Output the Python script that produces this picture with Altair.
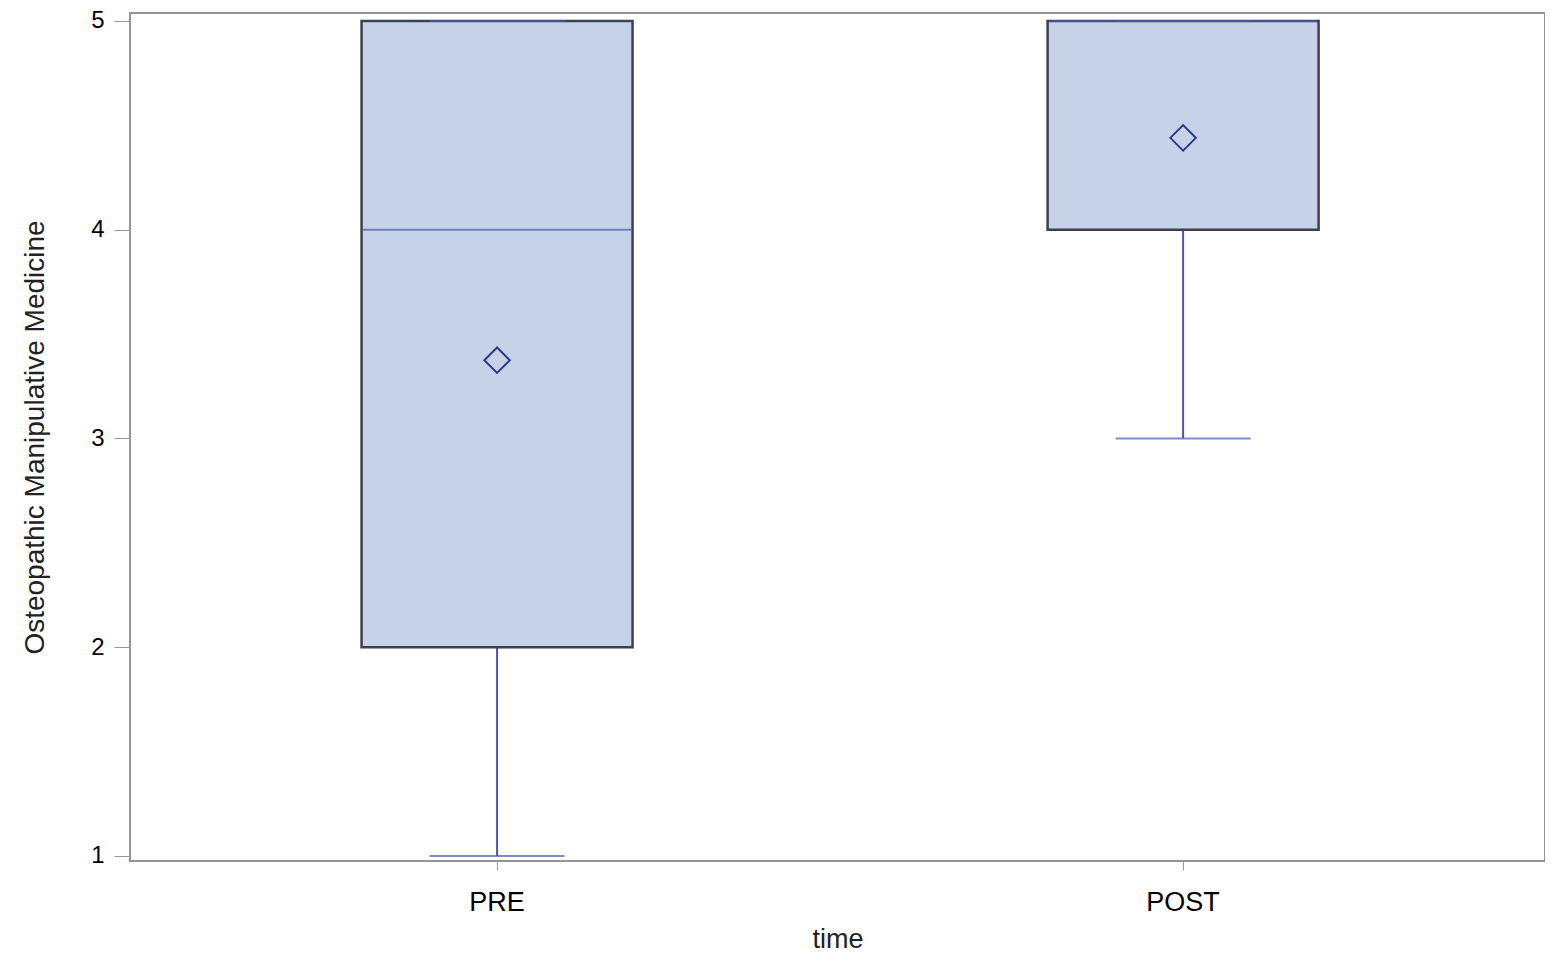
import altair as alt
import pandas as pd

times = ["PRE", "POST"]
mins = [1, 3]
q1s = [2, 4]
medians = [4, 5]
q3s = [5, 5]
maxs = [5, 5]
means = [3.375, 4.44]

df = pd.DataFrame({"time": times, "lo": mins, "q1": q1s, "med": medians,
                   "q3": q3s, "hi": maxs, "mean": means})

FILL = "#c6d2e8"
EDGE = "#3c4050"
BLUE = "#4558b0"
FONT = "Liberation Sans"

xenc = alt.X("time:N", sort=times, title="time",
             scale=alt.Scale(paddingInner=0, paddingOuter=0.0313, align=0.56),
             axis=alt.Axis(labelAngle=0, labelFontSize=27, titleFontSize=27,
                           labelFont=FONT, titleFont=FONT, titleFontWeight="normal",
                           labelColor="#000", titleColor="#222", domain=False,
                           tickColor="#999", tickSize=9, labelPadding=19, titlePadding=11))
yscale = alt.Scale(domain=[0.976, 5.038], nice=False, zero=False)
yaxis = alt.Axis(values=[1, 2, 3, 4, 5], format="d", labelFontSize=24, titleFontSize=28,
                 labelFont=FONT, titleFont=FONT, titleFontWeight="normal",
                 labelColor="#000", titleColor="#222", domain=False, grid=False,
                 tickColor="#999", tickSize=16, labelPadding=10, titlePadding=41)

base = alt.Chart(df)

whisk_lo = base.mark_rule(color=BLUE, strokeWidth=2).encode(
    x=xenc, y=alt.Y("lo:Q", scale=yscale, axis=yaxis, title="Osteopathic Manipulative Medicine"),
    y2="q1:Q")
whisk_hi = base.mark_rule(color=BLUE, strokeWidth=2).encode(
    x=xenc, y=alt.Y("q3:Q", scale=yscale), y2="hi:Q")
box = base.mark_bar(size=271, fill=FILL, stroke=EDGE, strokeWidth=2.5).encode(
    x=xenc, y=alt.Y("q1:Q", scale=yscale), y2="q3:Q")
cap_lo = base.mark_tick(size=135, thickness=2, color=BLUE).encode(
    x=xenc, y=alt.Y("lo:Q", scale=yscale))
cap_hi = base.mark_tick(size=135, thickness=2, color=BLUE).encode(
    x=xenc, y=alt.Y("hi:Q", scale=yscale))
median = base.mark_tick(size=268, thickness=2, color=BLUE).encode(
    x=xenc, y=alt.Y("med:Q", scale=yscale))
mean = base.mark_point(shape="diamond", size=650, filled=False, stroke="#2d3a8c",
                       strokeWidth=2, fill=FILL, fillOpacity=1).encode(
    x=xenc, y=alt.Y("mean:Q", scale=yscale))

chart = alt.layer(whisk_lo, whisk_hi, box, cap_lo, cap_hi, median, mean).properties(
    width=1415, height=848,
    background="white",
    autosize=alt.AutoSizeParams(type="none"),
    padding={"left": 122, "top": 5, "right": 0, "bottom": 92},
).configure_view(stroke="#959595", strokeWidth=2)

chart.save("out.html", embed_options={"renderer": "svg", "actions": False})
